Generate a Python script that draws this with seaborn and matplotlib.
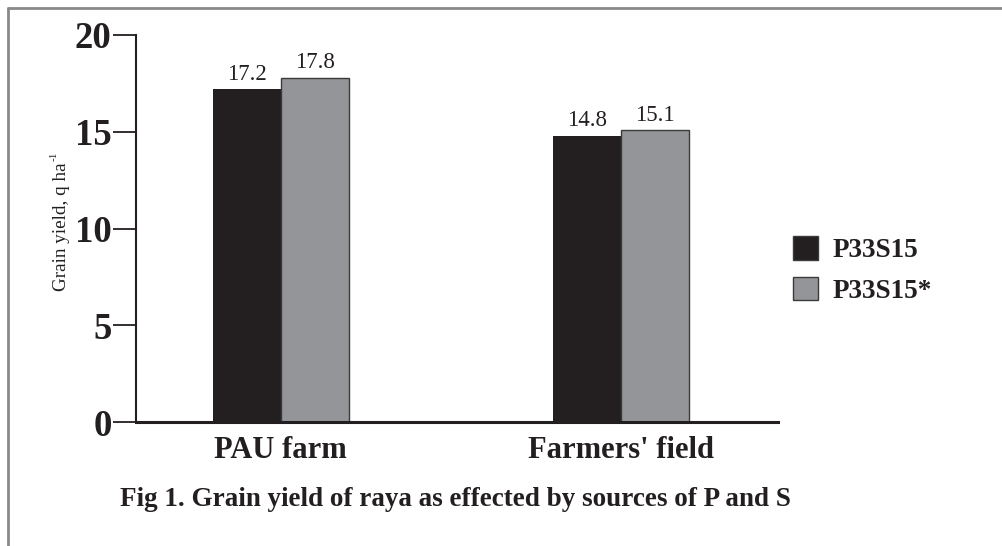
import matplotlib
matplotlib.use("Agg")
import matplotlib.pyplot as plt
from matplotlib.lines import Line2D
import seaborn as sns
import pandas as pd

# Data
sites = ["PAU farm", "Farmers' field"]
sources = ["P33S15", "P33S15*"]
yield_p33s15 = [17.2, 14.8]
yield_p33s15_star = [17.8, 15.1]
y_ticks = [0, 5, 10, 15, 20]

df = pd.DataFrame({
    "site": sites * 2,
    "source": [sources[0]] * 2 + [sources[1]] * 2,
    "yield": yield_p33s15 + yield_p33s15_star,
})

sns.set_theme(style="white")
plt.rcParams["font.family"] = ["Liberation Serif", "DejaVu Serif"]

W, H = 1003, 546
fig = plt.figure(figsize=(W / 100, H / 100), dpi=100)
fig.patch.set_facecolor("white")

# axes placed in pixel terms
x0, x1 = 136, 778
y_top, y_bot = 35, 422
ax = fig.add_axes([x0 / W, 1 - y_bot / H, (x1 - x0) / W, (y_bot - y_top) / H])
ax.set_facecolor("white")

colors = ["#231f20", "#939598"]
sns.barplot(data=df, x="site", y="yield", hue="source", palette=colors,
            width=0.4, gap=0, saturation=1, ax=ax, legend=True,
            edgecolor="none", linewidth=0)

# outline the grey bars
for cont, col in zip(ax.containers, colors):
    for p in cont:
        if col == colors[1]:
            p.set_edgecolor("#3a3a3a")
            p.set_linewidth(1.0)
        else:
            p.set_edgecolor(col)
            p.set_linewidth(0)

for cont, vals in zip(ax.containers, [yield_p33s15, yield_p33s15_star]):
    ax.bar_label(cont, labels=[f"{v:.1f}" for v in vals], padding=3,
                 fontsize=16.5, color="#231f20", family="Liberation Serif")

ax.set_ylim(0, 20)
ax.set_xlim(-0.426, 1.462)
ax.set_yticks(y_ticks)
ax.set_yticklabels([str(t) for t in y_ticks], fontsize=26.5, fontweight="bold",
                   color="#231f20")
ax.tick_params(axis="y", direction="out", length=16.5, width=1.3,
               color="#231f20", pad=1, left=True)
ax.tick_params(axis="x", length=0, pad=10)
for lbl in ax.get_xticklabels():
    lbl.set_fontsize(22)
    lbl.set_fontweight("bold")
    lbl.set_color("#231f20")

ax.set_xlabel("")
ax.set_ylabel("")
for side in ["top", "right"]:
    ax.spines[side].set_visible(False)
ax.spines["left"].set_color("#231f20")
ax.spines["left"].set_linewidth(1.5)
ax.spines["bottom"].set_color("#231f20")
ax.spines["bottom"].set_linewidth(2.2)

# y-axis title with a small raised "-1"
fig.text(62 / W, 1 - 227 / H, "Grain yield, q ha",
         rotation=90, ha="center", va="center", fontsize=13.8, color="#231f20",
         family="Liberation Serif")
fig.text(54 / W, 1 - 156 / H, "-1",
         rotation=90, ha="center", va="center", fontsize=8, color="#231f20",
         family="Liberation Serif")

# legend
handles, labels = ax.get_legend_handles_labels()
ax.get_legend().remove()
leg = fig.legend(handles, labels, loc="center left",
                 bbox_to_anchor=(769 / W, 1 - 270 / H), frameon=False,
                 handlelength=0.9, handleheight=0.95, handletextpad=0.55,
                 labelspacing=0.5, prop={"family": "Liberation Serif",
                                         "weight": "bold", "size": 19.5})
for t in leg.get_texts():
    t.set_color("#231f20")
for p in leg.get_patches():
    p.set_edgecolor("#3a3a3a")
    p.set_linewidth(1.0)

# caption
fig.text(120 / W, 1 - 500 / H,
         "Fig 1. Grain yield of raya as effected by sources of P and S",
         ha="left", va="center", fontsize=19.5, fontweight="bold",
         color="#231f20", family="Liberation Serif")

# outer frame (top and left edges)
fig.add_artist(Line2D([8 / W, 1.0], [1 - 8 / H, 1 - 8 / H],
                      transform=fig.transFigure, color="#8a8a8a", lw=2))
fig.add_artist(Line2D([8 / W, 8 / W], [0.0, 1 - 8 / H],
                      transform=fig.transFigure, color="#8a8a8a", lw=2))

fig.savefig("out.png", dpi=100, facecolor="white")
